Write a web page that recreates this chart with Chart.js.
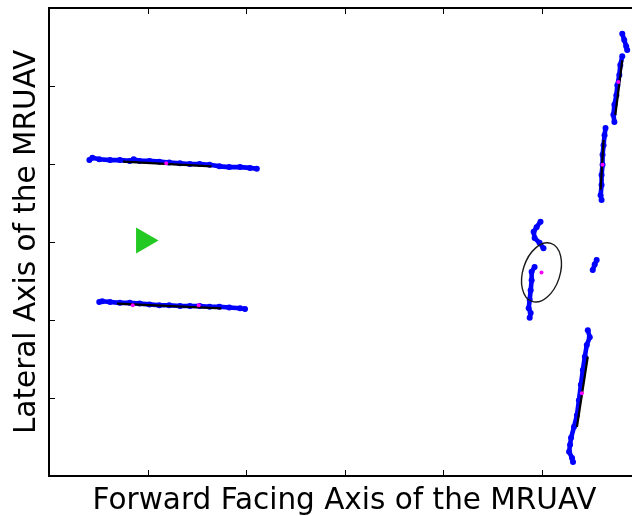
<!DOCTYPE html>
<html>
<head>
<meta charset="utf-8">
<script src="https://cdn.jsdelivr.net/npm/chart.js@4/dist/chart.umd.min.js"></script>
<style>
  html, body { margin: 0; padding: 0; background: #fff; overflow: hidden; }
  #wrap { width: 632px; height: 516px; overflow: hidden; position: relative; }
  #scan { display: block; position: absolute; left: 0; top: 0; }
</style>
</head>
<body>
<div id="wrap"><canvas id="scan" width="640" height="516"></canvas></div>
<script>
// Laser scan returns, grouped by the surface they hit  [forward, lateral]
const scanUpperWall = [
  [0.41,4.05],[0.44,4.08],[0.51,4.06],[0.62,4.05],[0.72,4.05],[0.82,4.04],[0.86,4.06],
  [0.92,4.04],[1.02,4.04],[1.12,4.03],[1.22,4.02],[1.33,4.01],[1.43,4.00],[1.53,4.00],
  [1.63,3.99],[1.73,3.97],[1.83,3.96],[1.94,3.96],[2.04,3.95],[2.11,3.94]
];
const scanLowerWall = [
  [0.51,2.23],[0.54,2.24],[0.62,2.23],[0.72,2.22],[0.82,2.22],[0.92,2.21],[1.02,2.20],
  [1.12,2.19],[1.22,2.19],[1.33,2.18],[1.43,2.18],[1.53,2.18],[1.63,2.17],[1.73,2.17],
  [1.83,2.16],[1.94,2.15],[1.99,2.14]
];
const scanObstacleTop = [[4.99,3.26],[4.95,3.19],[4.92,3.13],[4.93,3.05],[4.98,2.99],[5.02,2.92]];
const scanObstacleBottom = [[4.93,2.68],[4.90,2.62],[4.90,2.51],[4.89,2.38],[4.88,2.26],[4.87,2.15],[4.89,2.09],[4.88,2.03]];
const scanPost = [[5.56,2.77],[5.54,2.71],[5.52,2.64]];
const scanRightTop = [[5.82,5.67],[5.84,5.59],[5.86,5.51],[5.87,5.46]];
const scanRightUpper = [[5.82,5.38],[5.80,5.27],[5.79,5.14],[5.77,5.01],[5.76,4.88],[5.74,4.76],[5.73,4.63],[5.74,4.54]];
const scanRightMiddle = [[5.65,4.46],[5.64,4.37],[5.63,4.24],[5.62,4.12],[5.62,3.99],[5.61,3.86],[5.61,3.73],[5.60,3.60],[5.61,3.54]];
const scanRightLower = [
  [5.47,1.87],[5.49,1.78],[5.46,1.68],[5.44,1.53],[5.42,1.36],[5.40,1.17],[5.38,0.97],
  [5.36,0.78],[5.33,0.63],[5.30,0.49],[5.29,0.40],[5.28,0.31],[5.31,0.23],[5.32,0.18]
];

// Fitted line segments (end points)
const fitUpperWall = [[0.75,4.03],[1.65,3.97]];
const fitLowerWall = [[0.69,2.21],[1.75,2.15]];
const fitRightUpper = [[5.82,5.33],[5.75,4.63]];
const fitRightMiddle = [[5.63,4.31],[5.60,3.67]];
const fitRightLower = [[5.47,1.53],[5.36,0.63]];

// Feature centres
const featureCentres = [[1.19,4.01],[0.85,2.19],[1.52,2.19],[5.78,5.05],[5.62,3.99],[5.41,1.06],[5.00,2.61]];

// Vehicle position
const vehicle = [[0.96,3.02]];

// Uncertainty ellipse of the tracked obstacle: centre, semi-axes (x units, y units), tilt in degrees
const obstacleCentre = [5.00, 2.61];
const obstacleSemiAxes = [0.188, 0.391];
const obstacleTiltDeg = [18];

// Axis ticks
const tickValues = [0, 1, 2, 3, 4, 5, 6];

const toXY = arr => arr.map(p => ({ x: p[0], y: p[1] }));

const scanSets = [scanUpperWall, scanLowerWall, scanObstacleTop, scanObstacleBottom, scanPost,
                  scanRightTop, scanRightUpper, scanRightMiddle, scanRightLower];
const fitSets = [fitUpperWall, fitLowerWall, fitRightUpper, fitRightMiddle, fitRightLower];

const datasets = [];
scanSets.forEach(s => datasets.push({
  data: toXY(s), showLine: true, order: 3,
  borderColor: '#0000ff', borderWidth: 4.6, borderCapStyle: 'round', borderJoinStyle: 'round',
  pointRadius: 3, pointBackgroundColor: '#0000ff', pointBorderWidth: 0
}));
fitSets.forEach(s => datasets.push({
  data: toXY(s), showLine: true, order: 2,
  borderColor: '#000000', borderWidth: 2.2, pointRadius: 0
}));
datasets.push({
  data: toXY(featureCentres), order: 1,
  pointRadius: 2, pointBackgroundColor: '#ff00ff', pointBorderWidth: 0
});
datasets.push({
  data: toXY(vehicle), order: 0,
  pointStyle: 'triangle', pointRotation: 90, pointRadius: 15,
  pointBackgroundColor: '#22c922', pointBorderColor: '#22c922', pointBorderWidth: 0
});

// Frame with inward ticks on all four sides, plus the obstacle ellipse
const framePlugin = {
  id: 'frame',
  afterDatasetsDraw(chart) {
    const { ctx, chartArea: a, scales: { x, y } } = chart;
    ctx.save();
    // ellipse
    const cx = x.getPixelForValue(obstacleCentre[0]);
    const cy = y.getPixelForValue(obstacleCentre[1]);
    const rx = Math.abs(x.getPixelForValue(obstacleCentre[0] + obstacleSemiAxes[0]) - cx);
    const ry = Math.abs(y.getPixelForValue(obstacleCentre[1] + obstacleSemiAxes[1]) - cy);
    ctx.beginPath();
    ctx.ellipse(cx, cy, rx, ry, obstacleTiltDeg[0] * Math.PI / 180, 0, Math.PI * 2);
    ctx.strokeStyle = '#1a1a1a';
    ctx.lineWidth = 1.4;
    ctx.stroke();
    // ticks
    ctx.strokeStyle = '#000';
    ctx.lineWidth = 1;
    ctx.beginPath();
    tickValues.forEach(v => {
      const px = Math.round(x.getPixelForValue(v)) + 0.5;
      ctx.moveTo(px, a.bottom); ctx.lineTo(px, a.bottom - 6);
      ctx.moveTo(px, a.top); ctx.lineTo(px, a.top + 6);
      const py = Math.round(y.getPixelForValue(v)) + 0.5;
      ctx.moveTo(a.left, py); ctx.lineTo(a.left + 6, py);
      ctx.moveTo(a.right, py); ctx.lineTo(a.right - 6, py);
    });
    ctx.stroke();
    // frame
    ctx.lineWidth = 2;
    ctx.strokeRect(a.left, a.top, a.right - a.left, a.bottom - a.top);
    ctx.restore();
  }
};

const titleFont = { family: 'DejaVu Sans', size: 29.5, lineHeight: 1 };

new Chart(document.getElementById('scan'), {
  type: 'scatter',
  data: { datasets },
  options: {
    responsive: false,
    animation: false,
    devicePixelRatio: 1,
    layout: { autoPadding: false, padding: { top: 8, right: 0, bottom: 0, left: 0 } },
    plugins: { legend: { display: false }, tooltip: { enabled: false } },
    scales: {
      x: {
        type: 'linear', min: 0, max: 6,
        ticks: { display: false, stepSize: 1 },
        grid: { display: false }, border: { display: false },
        title: { display: true, text: 'Forward Facing Axis of the MRUAV', color: '#000', font: titleFont, padding: { top: 0, bottom: 0 } },
        afterFit(scale) { scale.height = 40; }
      },
      y: {
        type: 'linear', min: 0, max: 6,
        ticks: { display: false, stepSize: 1 },
        grid: { display: false }, border: { display: false },
        title: { display: true, text: 'Lateral Axis of the MRUAV', color: '#000', font: titleFont, padding: { top: 13, bottom: 0 } },
        afterFit(scale) { scale.width = 49; }
      }
    }
  },
  plugins: [framePlugin]
});
</script>
</body>
</html>
